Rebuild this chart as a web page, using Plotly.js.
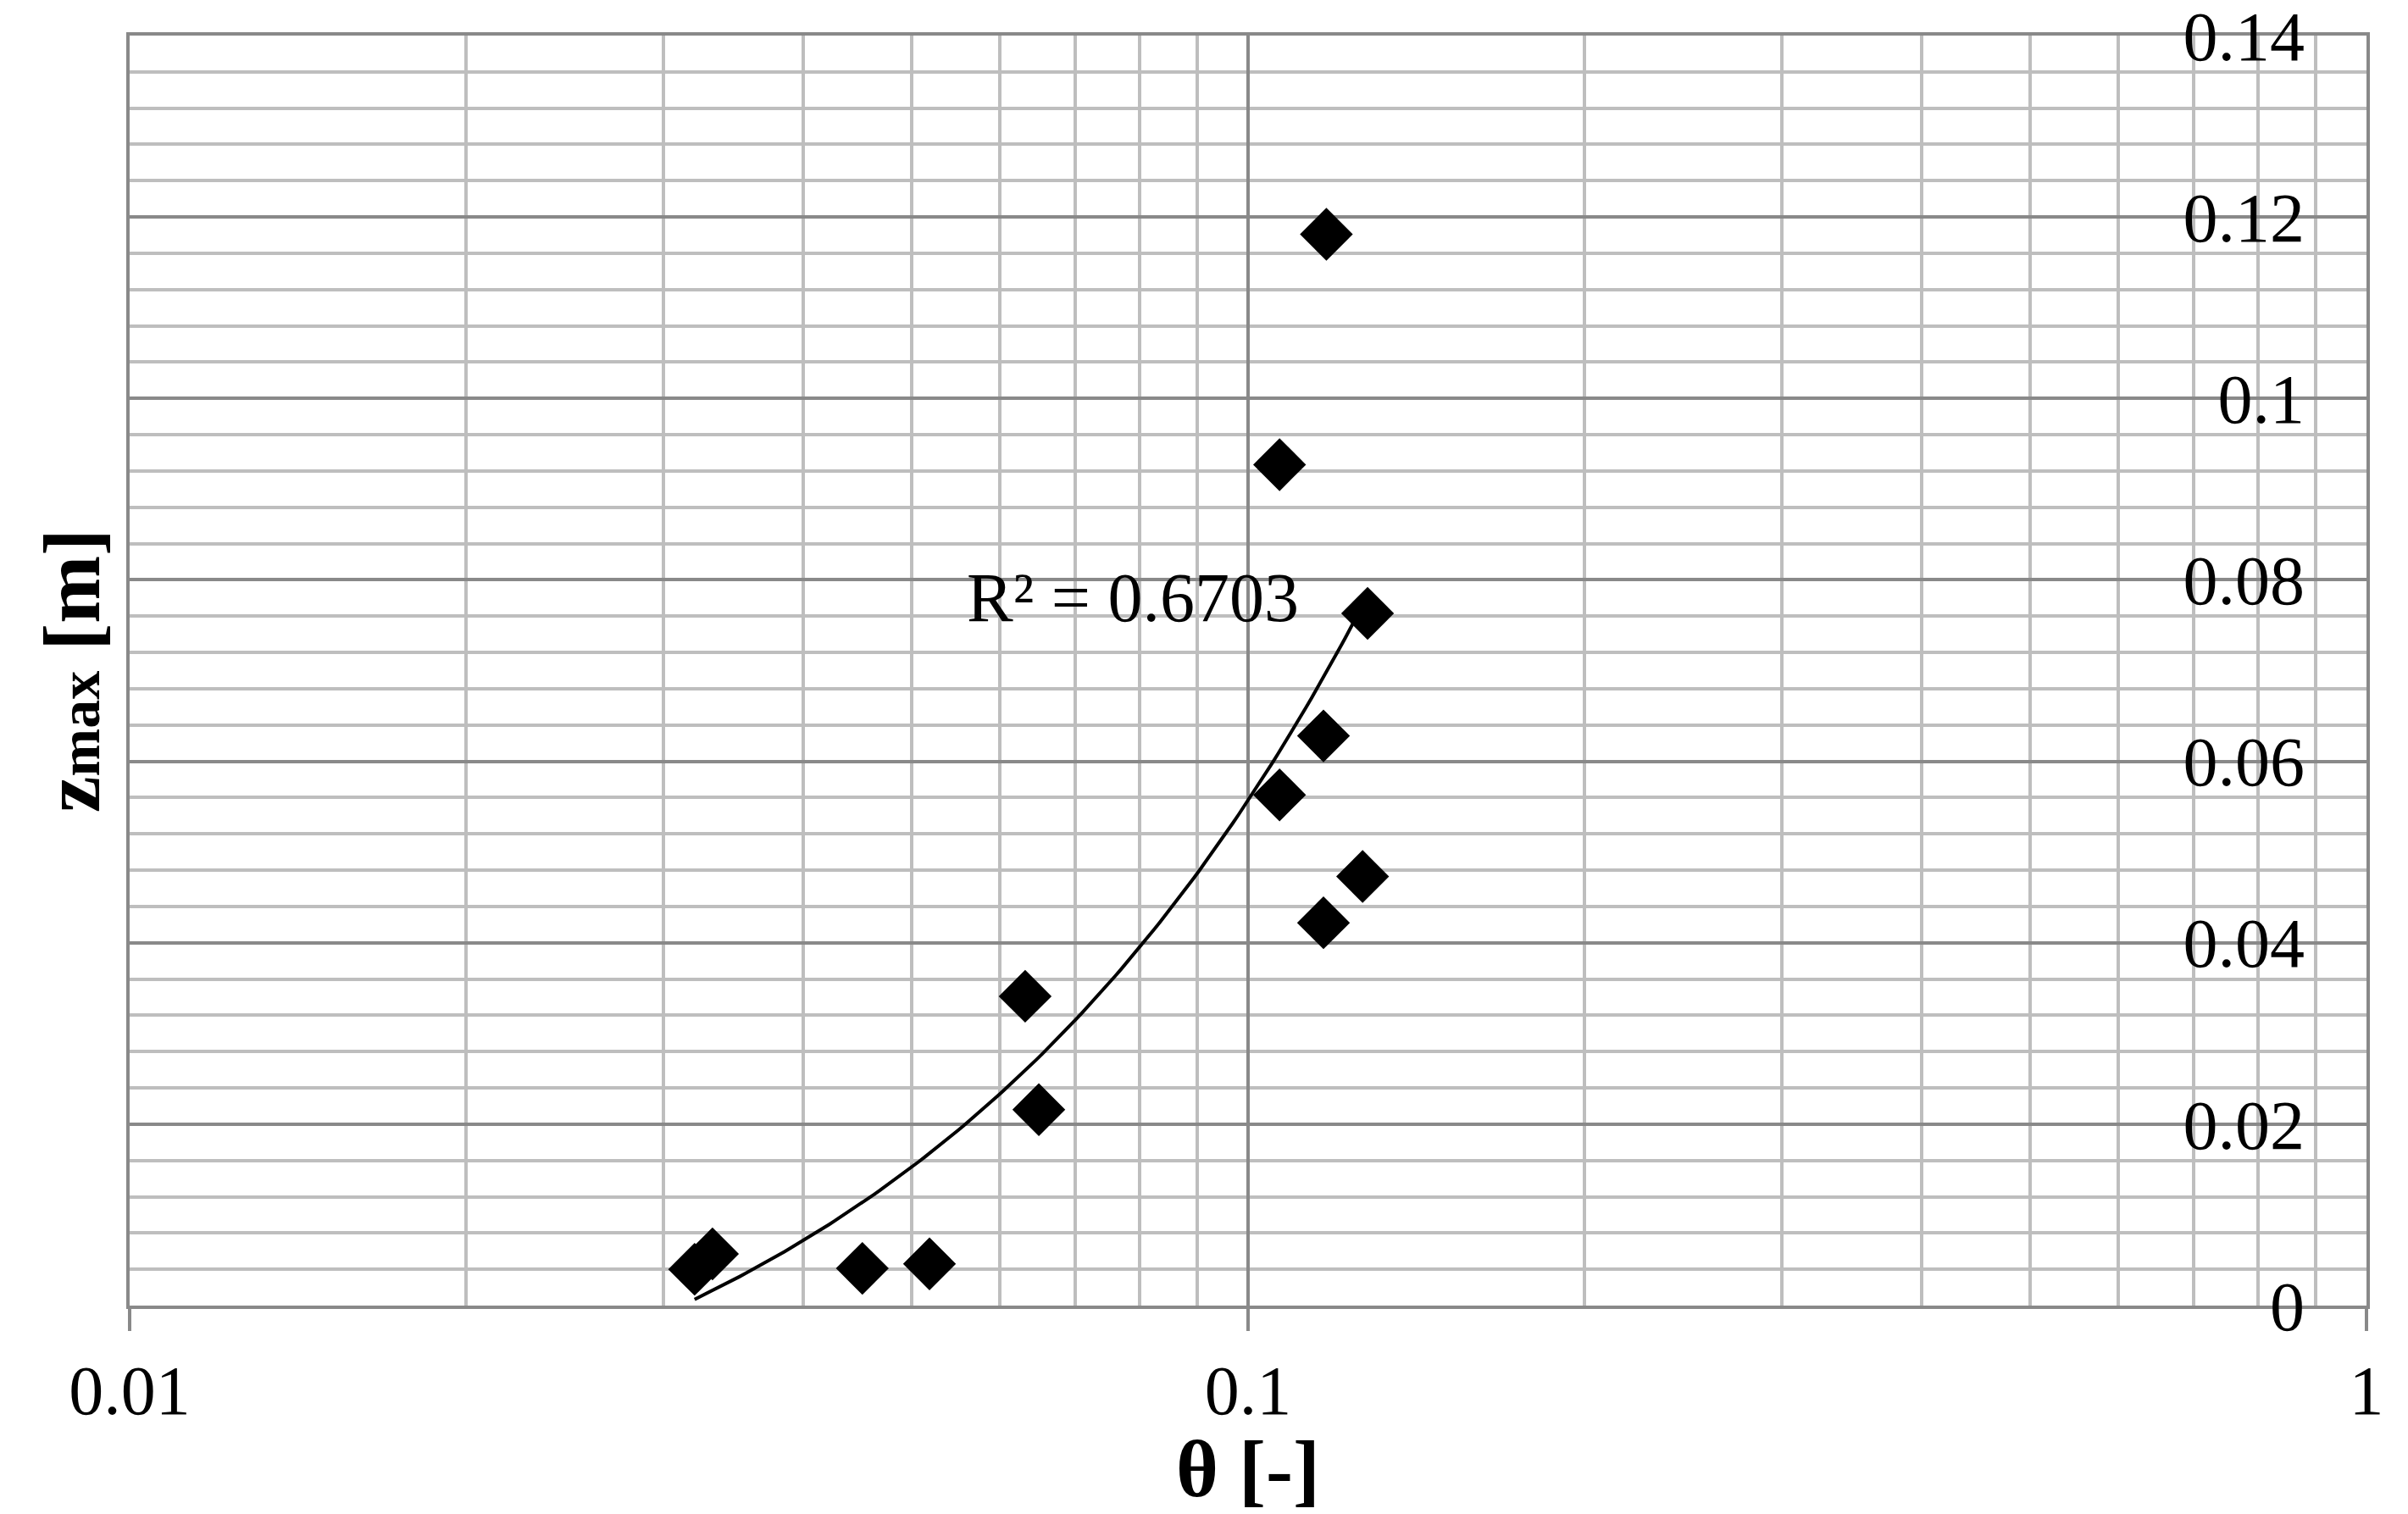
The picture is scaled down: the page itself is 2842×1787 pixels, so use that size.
<!DOCTYPE html>
<html>
<head>
<meta charset="utf-8">
<script src="https://cdn.plot.ly/plotly-3.0.1.min.js"></script>
<style>html,body{margin:0;padding:0;background:#fff;}#chart{width:2842px;height:1787px;}</style>
</head>
<body>
<div id="chart"></div>
<script>
// Data (theta [-], zmax [m])
var theta = [0.1175, 0.1067, 0.1279, 0.1168, 0.1067, 0.1266, 0.1168, 0.0320, 0.0332, 0.0452, 0.0519, 0.0632, 0.0650];
var zmax  = [0.1181, 0.0927, 0.0763, 0.0628, 0.0563, 0.0473, 0.0422, 0.0040, 0.0057, 0.0041, 0.0046, 0.0341, 0.0216];
var xTickVals = [0.01, 0.1, 1];
var xTickText = ['0.01', '0.1', '1'];
var yTickVals = [0, 0.02, 0.04, 0.06, 0.08, 0.1, 0.12, 0.14];
var yTickText = ['0', '0.02', '0.04', '0.06', '0.08', '0.1', '0.12', '0.14'];
var r2Label = 'R\u00b2 = 0.6703';

// Linear least-squares trendline (as Excel's linear trendline), drawn on the log x axis
var n = theta.length, mx = 0, my = 0;
for (var i = 0; i < n; i++) { mx += theta[i]; my += zmax[i]; }
mx /= n; my /= n;
var sxy = 0, sxx = 0;
for (var i = 0; i < n; i++) { sxy += (theta[i]-mx)*(zmax[i]-my); sxx += (theta[i]-mx)*(theta[i]-mx); }
var slope = sxy / sxx, intercept = my - slope * mx;
var xmin = Math.min.apply(null, theta), xmax = Math.max.apply(null, theta);
var trendX = [], trendY = [];
var steps = 120;
for (var k = 0; k <= steps; k++) {
  var xv = xmin * Math.pow(xmax / xmin, k / steps);
  trendX.push(xv); trendY.push(intercept + slope * xv);
}

var FONT = "'Liberation Serif', 'Times New Roman', serif";
var MAJ = '#898989', MIN = '#bebebe';

var traces = [
  { x: trendX, y: trendY, type: 'scatter', mode: 'lines', xaxis: 'x', yaxis: 'y',
    line: { color: '#000', width: 4 }, hoverinfo: 'skip', showlegend: false },
  { x: theta, y: zmax, type: 'scatter', mode: 'markers', xaxis: 'x', yaxis: 'y2',
    marker: { symbol: 'diamond', size: 48, color: '#000', line: { width: 0 } }, showlegend: false }
];

var layout = {
  width: 2842, height: 1787,
  margin: { l: 153, r: 49, t: 42, b: 246 },
  paper_bgcolor: '#fff', plot_bgcolor: '#fff',
  font: { family: FONT, color: '#000', size: 82 },
  showlegend: false,
  xaxis: {
    type: 'log', range: [-2, 0],
    tickmode: 'array', tickvals: xTickVals, ticktext: xTickText,
    ticks: 'outside', ticklen: 26, tickwidth: 4, tickcolor: MAJ,
    ticklabelstandoff: 0,
    tickfont: { family: FONT, size: 82, color: '#000' },
    showgrid: true, gridcolor: MAJ, gridwidth: 4,
    minor: { dtick: 'D1', showgrid: true, gridcolor: MIN, gridwidth: 4, ticks: '' },
    showline: true, linecolor: MAJ, linewidth: 4, mirror: true,
    zeroline: false,
    title: { text: '<b>\u03b8 [-]</b>', font: { family: FONT, size: 96, color: '#000' }, standoff: 36 }
  },
  yaxis: {
    range: [0, 0.14], dtick: 0.02, tick0: 0,
    showticklabels: false, ticks: '',
    showgrid: true, gridcolor: MAJ, gridwidth: 4,
    minor: { dtick: 0.004, showgrid: true, gridcolor: MIN, gridwidth: 4, ticks: '' },
    showline: true, linecolor: MAJ, linewidth: 4, mirror: true,
    zeroline: false,
    title: { text: "<b>z<span style='font-size:68px'>max</span> [m]</b>", font: { family: FONT, size: 96, color: '#000' }, standoff: 0 }
  },
  yaxis2: {
    overlaying: 'y', side: 'right', range: [0, 0.14],
    tickmode: 'array', tickvals: yTickVals, ticktext: yTickText,
    ticklabelposition: 'inside', ticklabelstandoff: 70, ticklabeloverflow: 'allow',
    tickfont: { family: FONT, size: 82, color: '#000' },
    ticks: '', showgrid: false, showline: false, zeroline: false
  },
  annotations: [
    { text: r2Label, xref: 'x', yref: 'y', x: Math.log10(0.0789), y: 0.0780,
      xanchor: 'center', yanchor: 'middle', showarrow: false,
      font: { family: FONT, size: 82, color: '#000' } }
  ]
};

Plotly.newPlot('chart', traces, layout, { displayModeBar: false, staticPlot: true });
</script>
</body>
</html>
